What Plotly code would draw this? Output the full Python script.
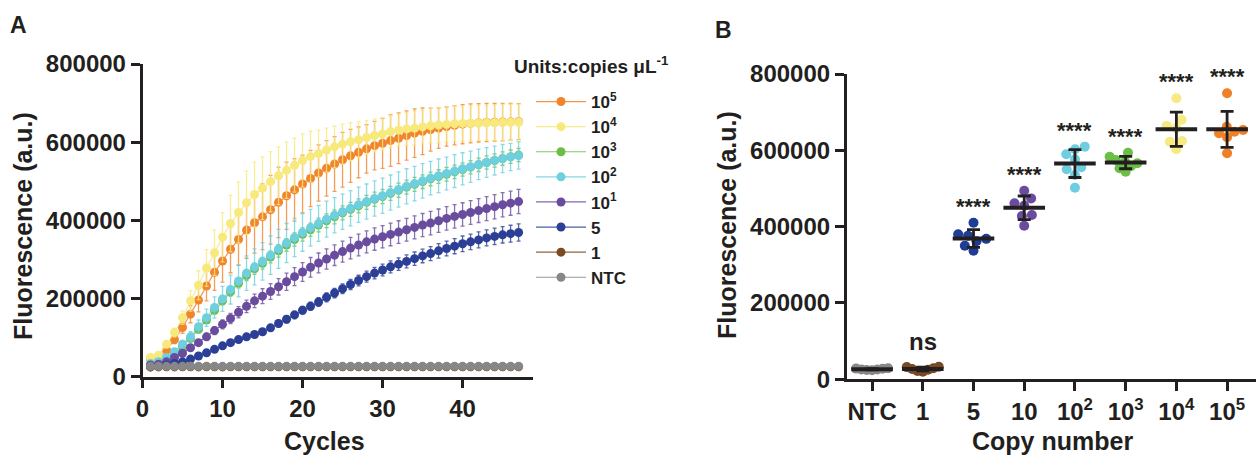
import numpy as np
import plotly.graph_objects as go

W, H = 1256, 455

# ---------------- Panel A data (mean and SD per cycle) ----------------
cycles = list(range(1, 48))

f_1e5 = [45000, 51000, 68000, 95000, 126000, 160000, 196000, 232000, 267000, 296000, 326000, 351000, 375000, 394000,
         409000, 427000, 446000, 463000, 478000, 493000, 507000, 521000, 533000, 544000, 555000, 565000, 574000, 583000, 591000, 597000,
         604000, 610000, 617000, 623000, 628000, 632000, 636000, 640000, 643000, 646000, 648000, 649500, 650500, 651000, 651500, 652000, 652500]
sd_1e5 = [3000, 4000, 6000, 10000, 15000, 22000, 30000, 38000, 46000, 54000, 60000, 66000, 72000, 78000,
          84000, 88000, 90000, 86000, 80000, 74000, 72000, 72000, 71000, 70000, 70000, 68000, 65000, 62000, 62000, 64000,
          66000, 65000, 63000, 62000, 60000, 55000, 52000, 50000, 50000, 50000, 50000, 49000, 49000, 48000, 48000, 47000, 46000]

f_1e4 = [49000, 55000, 83000, 113000, 151000, 194000, 234000, 278000, 317000, 357000, 392000, 420000, 445000, 466000,
         482000, 499000, 514000, 528000, 541000, 553000, 563000, 571000, 580000, 588000, 595000, 601000, 606000, 612000, 617000, 621000,
         627000, 631000, 634000, 636000, 639000, 642000, 644000, 645500, 647000, 648000, 648500, 649000, 649500, 650000, 650500, 651000, 651000]
sd_1e4 = [3000, 4000, 7000, 11000, 17000, 26000, 37000, 47000, 58000, 63000, 72000, 78000, 81000, 83000,
          80000, 77000, 74000, 72000, 69000, 68000, 65000, 60000, 56000, 53000, 51000, 49000, 46000, 43000, 42000, 41000,
          41000, 41000, 42000, 43000, 44000, 44000, 45000, 45000, 45000, 45000, 45000, 45000, 45000, 46000, 46000, 46000, 46000]

f_1e3 = [30000, 34000, 44000, 58000, 77000, 98000, 121000, 145000, 170000, 194000, 217000, 239000, 259000, 276000,
         290000, 306000, 322000, 337000, 351000, 364000, 376000, 388000, 399000, 409000, 419000, 428000, 437000, 446000, 454000, 461000,
         469000, 477000, 485000, 492000, 499000, 506000, 512000, 518000, 524000, 530000, 536000, 542000, 548000, 553000, 558000, 563000, 567000]
sd_1e3 = [1500, 2000, 3000, 4000, 5000, 6000, 7000, 8000, 9000, 10000, 11000, 12000, 13000, 14000,
          15000, 15000, 16000, 16000, 17000, 17000, 17000, 17500, 17500, 18000, 18000, 18000, 18000, 18000, 18000, 18000,
          18000, 18000, 18000, 18000, 17500, 17500, 17500, 17500, 17500, 17000, 17000, 17000, 17000, 17000, 17000, 17000, 17000]

f_1e2 = [34000, 38000, 49000, 64000, 83000, 102000, 128000, 151000, 177000, 199000, 223000, 245000, 265000, 281000,
         295000, 311000, 327000, 342000, 356000, 369000, 381000, 392000, 403000, 413000, 422000, 431000, 440000, 448000, 456000, 463000,
         471000, 479000, 487000, 494000, 501000, 508000, 514000, 520000, 526000, 532000, 537000, 543000, 548000, 553000, 558000, 562000, 566000]
sd_1e2 = [2000, 3000, 5000, 7000, 10000, 13000, 17000, 22000, 27000, 32000, 37000, 41000, 44000, 46000,
          48000, 49000, 50000, 50000, 49000, 48000, 47000, 46000, 46000, 45000, 45000, 45000, 45000, 45000, 45000, 45000,
          45000, 45000, 45000, 44000, 44000, 43000, 43000, 42000, 42000, 41000, 40000, 39000, 38000, 37000, 36000, 35000, 35000]

f_1e1 = [30000, 32000, 38000, 49000, 60000, 74000, 87000, 102000, 118000, 134000, 149000, 165000, 180000, 194000,
         206000, 218000, 230000, 243000, 256000, 268000, 280000, 291000, 301000, 311000, 320000, 329000, 337000, 345000, 352000, 358000,
         364000, 370000, 376000, 382000, 388000, 393000, 399000, 405000, 410000, 415000, 420000, 425000, 430000, 435000, 440000, 444000, 448000]
sd_1e1 = [1500, 2000, 3000, 4000, 5000, 6000, 7000, 8500, 10000, 11500, 13000, 14500, 16000, 17500,
          19000, 20000, 21000, 22000, 23000, 24000, 25000, 25500, 26000, 26500, 27000, 27500, 28000, 28000, 28500, 28500,
          29000, 29000, 29000, 29500, 29500, 30000, 30000, 30000, 30000, 30000, 30500, 30500, 30500, 31000, 31000, 31000, 31000]

f_5 = [25000, 27000, 30000, 34000, 38000, 45000, 53000, 61000, 70000, 79000, 87000, 95000, 102000, 108000,
       115000, 125000, 136000, 147000, 158000, 170000, 180000, 191000, 203000, 214000, 225000, 236000, 246000, 256000, 265000, 273000,
       281000, 288000, 295000, 302000, 309000, 315000, 322000, 328000, 334000, 340000, 345000, 350000, 355000, 359000, 363000, 366000, 369000]
sd_5 = [1000, 1000, 1500, 2000, 2500, 3000, 3500, 4000, 4500, 5000, 5500, 6000, 6500, 7000,
        7500, 8000, 8500, 9000, 9500, 10000, 10500, 11000, 11500, 12000, 12500, 13000, 13500, 14000, 14500, 15000,
        15500, 16000, 16500, 17000, 17500, 18000, 18500, 19000, 19500, 20000, 20000, 20500, 20500, 21000, 21000, 21500, 22000]

f_1 = [25000, 25000, 25500, 25000, 25500, 25500, 25000, 25500, 25500, 25000, 25500, 25500, 25500, 25500,
       25500, 25500, 25500, 25500, 25500, 25500, 25500, 25500, 25500, 25500, 25500, 25500, 25500, 25500, 25500, 25500,
       25500, 25500, 25500, 25500, 25500, 25500, 25500, 25500, 25500, 25500, 25500, 25500, 25500, 25500, 25500, 25500, 25500]
sd_1 = [1500] * 47

f_ntc = [26500, 26500, 26500, 26500, 26500, 26500, 26500, 26500, 26500, 26500, 26500, 26500, 26500, 26500,
         26500, 26500, 26500, 26500, 26500, 26500, 26500, 26500, 26500, 26500, 26500, 26500, 26500, 26500, 26500, 26500,
         26500, 26500, 26500, 26500, 26500, 26500, 26500, 26500, 26500, 26500, 26500, 26500, 26500, 26500, 26500, 26500, 26500]
sd_ntc = [1200] * 47

series_names = ["10<sup>5</sup>", "10<sup>4</sup>", "10<sup>3</sup>", "10<sup>2</sup>", "10<sup>1</sup>", "5", "1", "NTC"]
series_means = [f_1e5, f_1e4, f_1e3, f_1e2, f_1e1, f_5, f_1, f_ntc]
series_sds = [sd_1e5, sd_1e4, sd_1e3, sd_1e2, sd_1e1, sd_5, sd_1, sd_ntc]
series_colors = ["#F0852D", "#F8E97C", "#6BBE45", "#6ECFDF", "#6A4C9F", "#2C3F96", "#7A4A21", "#878787"]

# ---------------- Panel B data (endpoint fluorescence, replicates) ----------------
groups = ["NTC", "1", "5", "10", "10<sup>2</sup>", "10<sup>3</sup>", "10<sup>4</sup>", "10<sup>5</sup>"]
g_ntc = [29000, 28000, 27500, 26000, 25500, 24500, 24000]
g_1 = [33000, 32000, 29000, 27000, 25000, 22000, 20000]
g_5 = [410000, 380000, 376000, 368000, 362000, 350000, 337000]
g_10 = [494000, 474000, 461000, 455000, 430500, 428000, 402500]
g_1e2 = [609600, 602700, 589600, 576500, 555600, 550300, 535300, 502000]
g_1e3 = [593800, 583300, 574600, 570200, 566000, 558900, 552900, 544000]
g_1e4 = [736300, 680000, 664000, 657700, 624400, 622600, 602700]
g_1e5 = [749400, 661900, 653300, 648800, 644600, 634100, 592200]
group_values = [g_ntc, g_1, g_5, g_10, g_1e2, g_1e3, g_1e4, g_1e5]
group_colors = ["#888888", "#774A23", "#1F3C96", "#6A4BA0", "#6ECDE0", "#6BBF47", "#F8EA82", "#EF8025"]
sig_labels = ["", "ns", "****", "****", "****", "****", "****", "****"]

y_ticks = [0, 200000, 400000, 600000, 800000]
x_ticks_a = [0, 10, 20, 30, 40]

# ---------------- geometry ----------------
FONT = "Liberation Sans, Arial, sans-serif"
INK = "#231F20"

def px_x(p):
    return p / W

def px_y(p):
    return 1 - p / H

A_x0, A_x1 = 142.5, 533.0
A_y0, A_y1 = 376.7, 64.0
B_x0, B_x1 = 846.7, 1256.0
B_y0, B_y1 = 379.3, 74.0

def rgba(hexc, a):
    h = hexc.lstrip("#")
    r, g, b = int(h[0:2], 16), int(h[2:4], 16), int(h[4:6], 16)
    return f"rgba({r},{g},{b},{a})"

fig = go.Figure()

# Panel A traces
for name, m, s, c in zip(series_names, series_means, series_sds, series_colors):
    fig.add_trace(go.Scatter(
        x=cycles, y=m, name=name, mode="lines+markers",
        line=dict(color=rgba(c, 0.85), width=1.2),
        marker=dict(color=c, size=9, line=dict(width=0)),
        error_y=dict(type="data", array=s, visible=True, color=rgba(c, 0.8), thickness=1.3, width=2),
        xaxis="x", yaxis="y",
    ))

# Panel B: beeswarm offsets computed from values
ypx_per_unit = (B_y0 - B_y1) / 800000.0
xpx_per_cat = (B_x1 - B_x0) / 8.07

def swarm(values, d_px=10.0, max_px=16.0):
    vals = np.asarray(values, dtype=float)
    order = np.argsort(vals)
    placed = []
    offs = [0.0] * len(vals)
    for idx in order:
        y = vals[idx] * ypx_per_unit
        cands = [0.0]
        for (px, py) in placed:
            dy = abs(py - y)
            if dy < d_px:
                dx = (d_px ** 2 - dy ** 2) ** 0.5
                cands += [px + dx, px - dx]
        cands.sort(key=lambda v: (abs(v), v))
        chosen = cands[-1]
        for cnd in cands:
            if all((cnd - px) ** 2 + (y - py) ** 2 >= d_px ** 2 - 1e-6 for px, py in placed):
                chosen = cnd
                break
        placed.append((chosen, y))
        offs[idx] = chosen
    widest = max(abs(o) for o in offs) or 1.0
    scale = min(1.0, max_px / widest)
    return [o * scale / xpx_per_cat for o in offs]

for i, (vals, col) in enumerate(zip(group_values, group_colors)):
    offs = swarm(vals)
    fig.add_trace(go.Scatter(
        x=[i + o for o in offs], y=vals, mode="markers", showlegend=False,
        marker=dict(color=col, size=10, line=dict(width=0)),
        xaxis="x2", yaxis="y2", hoverinfo="skip",
    ))

for i, vals in enumerate(group_values):
    m = float(np.mean(vals))
    s = float(np.std(vals, ddof=1))
    fig.add_trace(go.Scatter(
        x=[i - 0.41, i + 0.41], y=[m, m], mode="lines", showlegend=False,
        line=dict(color=INK, width=4), xaxis="x2", yaxis="y2", hoverinfo="skip",
    ))
    fig.add_trace(go.Scatter(
        x=[i], y=[m], mode="markers", showlegend=False,
        marker=dict(size=1, color="rgba(0,0,0,0)"),
        error_y=dict(type="data", array=[s], visible=True, color=INK, thickness=2.8, width=6.5),
        xaxis="x2", yaxis="y2", hoverinfo="skip",
    ))

annotations = []
for i, (vals, lab) in enumerate(zip(group_values, sig_labels)):
    if not lab:
        continue
    annotations.append(dict(
        x=i, y=max(vals), xref="x2", yref="y2", text=lab, showarrow=False,
        yanchor="bottom", xanchor="center", yshift=(10 if lab == "ns" else 2),
        font=dict(family=FONT, size=(24 if lab == "ns" else 22), color=INK, weight="bold"),
    ))

def ann(text, x, y, size, angle=0, xanchor="center"):
    annotations.append(dict(
        x=px_x(x), y=px_y(y), xref="paper", yref="paper", text=text, showarrow=False,
        xanchor=xanchor, yanchor="middle", textangle=angle,
        font=dict(family=FONT, size=size, color=INK, weight="bold"),
    ))

ann("A", 18, 25, 23)
ann("B", 723, 30, 23)
ann("Fluorescence (a.u.)", 23, 226, 25, angle=-90)
ann("Cycles", 324, 441, 25)
ann("Fluorescence (a.u.)", 727, 225, 25, angle=-90)
ann("Copy number", 1052, 441, 25)
ann("Units:copies μL<sup>-1</sup>", 512, 65, 19, xanchor="left")

axis_common = dict(
    showgrid=False, zeroline=False, showline=True, linecolor=INK, linewidth=2.5,
    ticks="outside", ticklen=9, tickwidth=2.5, tickcolor=INK,
    tickfont=dict(family=FONT, size=24, color=INK, weight="bold"),
    automargin=False, fixedrange=True,
)

fig.update_layout(
    width=W, height=H, margin=dict(l=0, r=0, t=0, b=0),
    paper_bgcolor="white", plot_bgcolor="white",
    font=dict(family=FONT, color=INK),
    showlegend=True,
    legend=dict(
        x=px_x(531), y=px_y(84), xanchor="left", yanchor="top",
        font=dict(family=FONT, size=17, color=INK, weight="bold"),
        bgcolor="rgba(0,0,0,0)", borderwidth=0, itemwidth=50,
        traceorder="normal", tracegroupgap=0,
    ),
    xaxis=dict(domain=[px_x(A_x0), px_x(A_x1)], range=[0, 48.8], tickvals=x_ticks_a,
               ticktext=[str(v) for v in x_ticks_a], anchor="y", **axis_common),
    yaxis=dict(domain=[px_y(A_y0), px_y(A_y1)], range=[0, 800000], tickvals=y_ticks,
               ticktext=[str(v) for v in y_ticks], anchor="x", **axis_common),
    xaxis2=dict(domain=[px_x(B_x0), px_x(B_x1)], range=[-0.5, 7.57], tickvals=list(range(len(groups))),
                ticktext=groups, anchor="y2", **axis_common),
    yaxis2=dict(domain=[px_y(B_y0), px_y(B_y1)], range=[0, 800000], tickvals=y_ticks,
                ticktext=[str(v) for v in y_ticks], anchor="x2", **axis_common),
    annotations=annotations,
)

fig.write_html("out.html", config={"displayModeBar": False},
               post_script="document.body.style.margin='0';document.body.style.overflow='hidden';")
